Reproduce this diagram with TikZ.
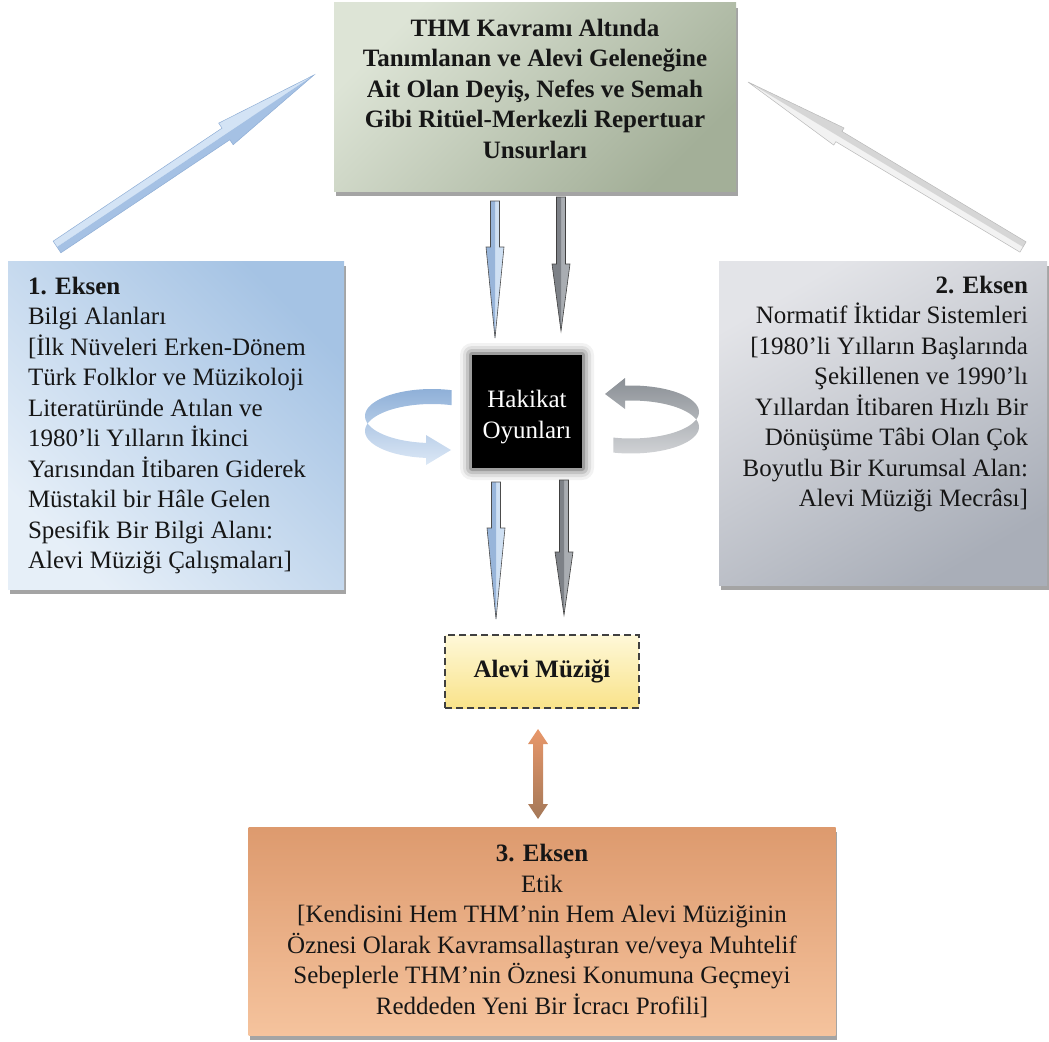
\documentclass[tikz,border=0pt]{standalone}
\usepackage{fontspec}
\setmainfont{Liberation Serif}
\usetikzlibrary{calc,shadows,backgrounds}

\definecolor{txt}{HTML}{161616}
\definecolor{topA}{HTML}{DDE4D6}
\definecolor{topB}{HTML}{A3AF98}
\definecolor{blueA}{HTML}{E6EFF8}
\definecolor{blueB}{HTML}{A5C3E4}
\definecolor{grayA}{HTML}{E3E4E8}
\definecolor{grayB}{HTML}{A9AEB8}
\definecolor{orgA}{HTML}{DD9A6E}
\definecolor{orgB}{HTML}{F5C39D}
\definecolor{yelA}{HTML}{FEF8D8}
\definecolor{yelB}{HTML}{F9E38A}
\definecolor{loopBA}{HTML}{8FB0D8}
\definecolor{loopBB}{HTML}{DCE8F6}
\definecolor{loopGA}{HTML}{8A8F95}
\definecolor{loopGB}{HTML}{D0D2D5}
\definecolor{arrBL}{HTML}{D3E3F5}
\definecolor{arrBD}{HTML}{A5C1E4}
\definecolor{arrBE}{HTML}{8FAED6}
\definecolor{dnBL}{HTML}{CFE0F3}
\definecolor{dnBD}{HTML}{98B5DA}
\definecolor{dnGL}{HTML}{A9ADB2}
\definecolor{dnGD}{HTML}{7D8187}
\definecolor{brA}{HTML}{E8976A}
\definecolor{brB}{HTML}{A47858}

% block arrow: tail, tip, shaft half width, head half width, head length,
% light half, dark half, outline
\newcommand\blockarrow[8]{%
  \coordinate (bahead) at ($(#2)!#5!(#1)$);
  \fill[#6] (#1) -- ($(#1)!#3!90:(#2)$) -- ($(bahead)!#3!90:(#2)$)
    -- ($(bahead)!#4!90:(#2)$) -- (#2) -- cycle;
  \fill[#7] (#1) -- ($(#1)!#3!-90:(#2)$) -- ($(bahead)!#3!-90:(#2)$)
    -- ($(bahead)!#4!-90:(#2)$) -- (#2) -- cycle;
  \draw[#8] ($(#1)!#3!90:(#2)$) -- ($(bahead)!#3!90:(#2)$)
    -- ($(bahead)!#4!90:(#2)$) -- (#2) -- ($(bahead)!#4!-90:(#2)$)
    -- ($(bahead)!#3!-90:(#2)$) -- ($(#1)!#3!-90:(#2)$) -- cycle;
}

\tikzset{
  card/.style={inner sep=0pt, outer sep=0pt, text=txt,
    font=\fontsize{25}{30.5}\selectfont,
    drop shadow={shadow xshift=1.5pt, shadow yshift=-5pt, opacity=0.55, fill=black!65}},
  topbox/.style={card, minimum width=402pt, minimum height=188pt,
    top color=topA, bottom color=topB, shading angle=45},
  axisone/.style={card, minimum width=336pt, minimum height=328pt,
    top color=blueB, bottom color=blueA, shading angle=-45},
  axistwo/.style={card, minimum width=328pt, minimum height=324pt,
    top color=grayA, bottom color=grayB, shading angle=30},
  axisthree/.style={card, minimum width=587pt, minimum height=208pt, align=center,
    top color=orgA, bottom color=orgB},
  truthbox/.style={inner sep=0pt, outer sep=0pt, minimum width=110pt, minimum height=113pt,
    fill=black, text=white, font=\fontsize{25}{31}\selectfont},
  musicbox/.style={inner sep=0pt, outer sep=0pt, minimum width=194pt, minimum height=73pt,
    top color=yelA, bottom color=yelB, draw=black!75, line width=1.8pt,
    dash pattern=on 7pt off 4pt, text=txt, font=\fontsize{25}{30}\selectfont\bfseries},
}

\begin{document}
\begin{tikzpicture}[x=1pt,y=-1pt]
\useasboundingbox (0,0) rectangle (1049,1041);

% boxes
\node[topbox] (top) at (535,97)
  {\parbox[c][188pt][t]{398pt}{\vspace*{16pt}\centering\bfseries
   THM Kavramı Altında\\ Tanımlanan ve Alevi Geleneğine\\
   Ait Olan Deyiş, Nefes ve Semah\\ Gibi Ritüel-Merkezli Repertuar\\
   Unsurları}};

\node[axisone] (ax1) at (176,425)
  {\parbox[c][328pt][t]{296pt}{\vspace*{16pt}\raggedright
   \textbf{1. Eksen}\\ Bilgi Alanları\\ {}[İlk Nüveleri Erken-Dönem\\
   Türk Folklor ve Müzikoloji\\ Literatüründe Atılan ve\\
   1980’li Yılların İkinci\\ Yarısından İtibaren Giderek\\
   Müstakil bir Hâle Gelen\\ Spesifik Bir Bilgi Alanı:\\
   Alevi Müziği Çalışmaları]}};

\node[axistwo] (ax2) at (883,423)
  {\parbox[c][324pt][t]{290pt}{\vspace*{15pt}\raggedleft
   \textbf{2. Eksen}\\ Normatif İktidar Sistemleri\\ {}[1980’li Yılların Başlarında\\
   Şekillenen ve 1990’lı\\ Yıllardan İtibaren Hızlı Bir\\
   Dönüşüme Tâbi Olan Çok\\ Boyutlu Bir Kurumsal Alan:\\
   Alevi Müziği Mecrâsı]}};

\node[truthbox] (hak) at (527,411.5)
  {\parbox[c][113pt][c]{108pt}{\vspace*{12pt}\centering Hakikat\\ Oyunları}};

\node[musicbox] (alevi) at (542,671.5) {Alevi Müziği};

\node[axisthree] (ax3) at (542,931)
  {\textbf{3. Eksen}\\ Etik\\ {}[Kendisini Hem THM’nin Hem Alevi Müziğinin\\
   Öznesi Olarak Kavramsallaştıran ve/veya Muhtelif\\
   Sebeplerle THM’nin Öznesi Konumuna Geçmeyi\\
   Reddeden Yeni Bir İcracı Profili]};

% soft glow around the central box
\begin{scope}[on background layer]
  \foreach \g/\o in {12/0.05, 9/0.08, 6/0.12, 3/0.2} {
    \fill[black, opacity=\o, rounded corners=\g pt]
      ($(hak.south west)+(-\g,\g)$) rectangle ($(hak.north east)+(\g,-\g)$);
  }
\end{scope}

% connector end points
\coordinate (la) at ($(ax1.north west)+(49,-14)$);
\coordinate (lb) at ($(top.west)+(-20,-22)$);
\coordinate (ra) at ($(ax2.north east)+(-24,-14)$);
\coordinate (rb) at ($(top.east)+(12,-15)$);
\coordinate (u1a) at ($(top.south)+(-40,10)$);
\coordinate (u1b) at ($(hak.north)+(-32,-17)$);
\coordinate (u2a) at ($(top.south)+(26,6)$);
\coordinate (u2b) at ($(hak.north)+(34,-24)$);
\coordinate (d1a) at ($(hak.south)+(-31,14)$);
\coordinate (d1b) at ($(alevi.north)+(-46,-16)$);
\coordinate (d2a) at ($(hak.south)+(37,12)$);
\coordinate (d2b) at ($(alevi.north)+(22,-20)$);
\coordinate (ba) at ($(alevi.south)+(-4,21)$);
\coordinate (bb) at ($(ax3.north)+(-4,-8)$);

% diagonal arrows towards the top box
\blockarrow{la}{lb}{7pt}{13pt}{106pt}{fill=arrBL}{fill=arrBD}{draw=arrBE, line width=0.5pt}
\blockarrow{ra}{rb}{6pt}{10pt}{106pt}{fill=gray!10}{fill=gray!32}{draw=gray!55, line width=0.5pt}

% vertical arrows
\blockarrow{u1a}{u1b}{4.5pt}{9pt}{91pt}{fill=dnBL}{fill=dnBD}{draw=black!70, line width=0.6pt}
\blockarrow{u2a}{u2b}{4.5pt}{9pt}{67pt}{fill=dnGL}{fill=dnGD}{draw=black!75, line width=0.6pt}
\blockarrow{d1a}{d1b}{4.5pt}{9pt}{91pt}{fill=dnBL}{fill=dnBD}{draw=black!70, line width=0.6pt}
\blockarrow{d2a}{d2b}{4.5pt}{9pt}{63pt}{fill=dnGL}{fill=dnGD}{draw=black!75, line width=0.6pt}

% double arrow between the music box and the third axis
\shade[top color=brA, bottom color=brB]
  (ba) -- ($(ba)+(10,15)$) -- ($(ba)+(5,15)$) -- ($(bb)+(5,-15)$) -- ($(bb)+(10,-15)$)
  -- (bb) -- ($(bb)+(-10,-15)$) -- ($(bb)+(-5,-15)$) -- ($(ba)+(-5,15)$)
  -- ($(ba)+(-10,15)$) -- cycle;

% looping arrows beside the central box
\shade[top color=loopBA, bottom color=loopBB]
  plot[domain=287:95, samples=60] ({432+67*cos(\x)},{416+27*sin(\x)})
  -- (426,435) -- (451,450) -- (426,465)
  -- plot[domain=95:287, samples=60] ({432+67*cos(\x)},{431+27*sin(\x)}) -- cycle;

\shade[top color=loopGA, bottom color=loopGB]
  plot[domain=105:-95, samples=60] ({631+68*cos(\x)},{412+26.5*sin(\x)})
  -- (625,378) -- (605,394) -- (625,409)
  -- plot[domain=-95:105, samples=60] ({631+68*cos(\x)},{427+26.5*sin(\x)}) -- cycle;

\end{tikzpicture}
\end{document}
